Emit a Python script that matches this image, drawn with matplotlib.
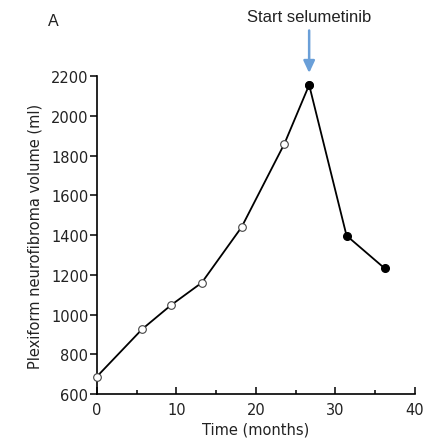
import matplotlib
matplotlib.use("Agg")
import matplotlib.pyplot as plt
from matplotlib.ticker import MultipleLocator

# months, volume (ml); open circles before treatment, filled after
months_pre = [0, 5.7, 9.3, 13.2, 18.2, 23.6, 26.7]
volume_pre = [687, 926, 1046, 1160, 1439, 1860, 2155]
months_post = [26.7, 31.4, 36.2]
volume_post = [2155, 1397, 1232]

xticks = [0, 10, 20, 30, 40]
yticks = [600, 800, 1000, 1200, 1400, 1600, 1800, 2000, 2200]

fig = plt.figure(figsize=(4.30, 4.39), dpi=100)
ax = fig.add_axes([0.225, 0.1002, 0.740, 0.7244])

ax.plot(months_pre, volume_pre, color='black', lw=1.3, marker='o', ms=5.5,
        mfc='white', mec='#444444', mew=0.8, clip_on=False, zorder=3)
ax.plot(months_post, volume_post, color='black', lw=1.3, marker='o', ms=5.5,
        mfc='black', mec='black', clip_on=False, zorder=3)

ax.set_xlim(0, 40)
ax.set_ylim(600, 2200)
ax.set_xticks(xticks)
ax.set_yticks(yticks)
ax.xaxis.set_minor_locator(MultipleLocator(5))

for s in ['top', 'right']:
    ax.spines[s].set_visible(False)
for s in ['left', 'bottom']:
    ax.spines[s].set_linewidth(1.2)

ax.tick_params(axis='y', direction='out', length=5, width=1.1, labelsize=10.5,
               pad=1, labelcolor='#222222')
ax.tick_params(axis='x', which='major', direction='in', length=5, width=1.1,
               labelsize=10.5, pad=6, labelcolor='#222222')
ax.tick_params(axis='x', which='minor', direction='in', length=3, width=1.1)

ax.set_xlabel('Time (months)', fontsize=10.5, labelpad=3, color='#222222')
ax.set_ylabel('Plexiform neurofibroma volume (ml)', fontsize=10.5,
              labelpad=6, color='#222222')

ax.annotate('Start selumetinib', xy=(months_post[0], volume_post[0] + 60),
            xytext=(0, 57), textcoords='offset pixels', ha='center', va='center',
            fontsize=12, family='Liberation Sans', color='#222222',
            annotation_clip=False,
            arrowprops=dict(arrowstyle='-|>,head_length=0.6,head_width=0.28',
                            color='#6a9fd8', lw=1.8, shrinkA=3, shrinkB=0))

fig.text(53 / 430, 1 - 21 / 439, 'A', fontsize=11.5, family='Liberation Sans',
         ha='center', va='center', color='#222222')

fig.savefig('out.png', dpi=100)
